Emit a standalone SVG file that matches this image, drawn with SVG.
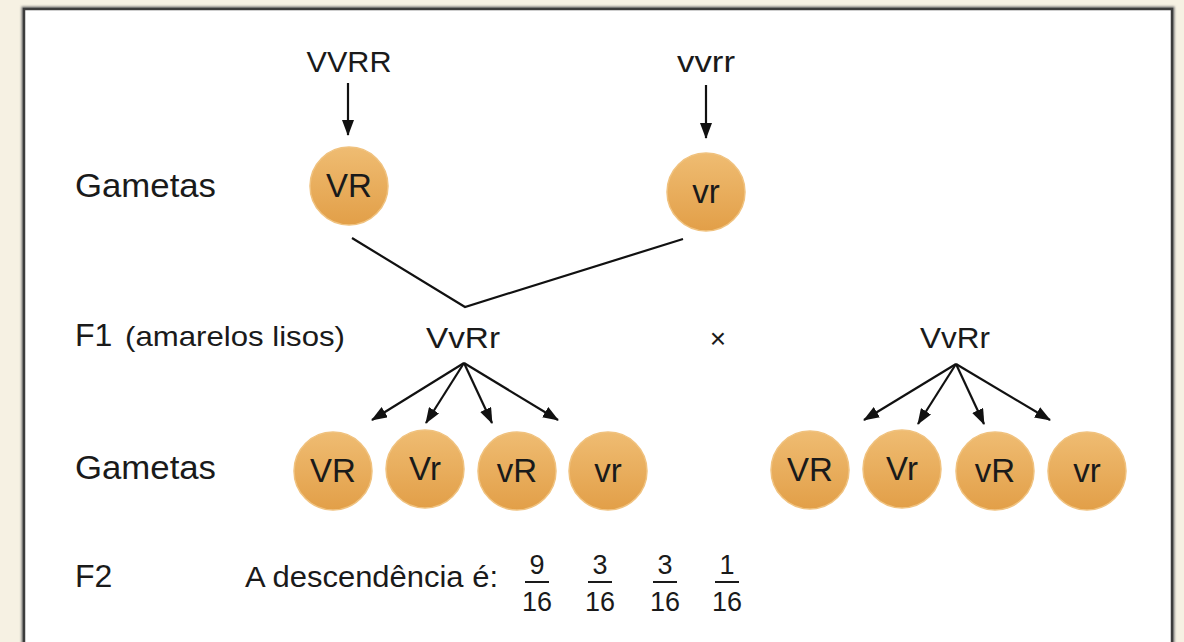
<svg xmlns="http://www.w3.org/2000/svg" width="1184" height="642" viewBox="0 0 1184 642">
<style>
text{font-family:"Liberation Sans",Arial,sans-serif;fill:#1a1a1a}
.lbl{font-size:34px}
.geno{font-size:29px;text-anchor:middle}
.gam{font-size:33px;text-anchor:middle}
.frac{font-size:27px;text-anchor:middle}
.ball{fill:url(#g);stroke:#f0c27f;stroke-width:1.5}
.conn{stroke:#111;stroke-width:2.2;fill:none}
</style>
<defs>
<linearGradient id="g" x1="0" y1="0" x2="0" y2="1">
<stop offset="0" stop-color="#efbc72"/>
<stop offset="1" stop-color="#e29f48"/>
</linearGradient>
<marker id="ah" markerUnits="userSpaceOnUse" markerWidth="16" markerHeight="12" refX="15" refY="6" orient="auto">
<path d="M0,0 L16,6 L0,12 Z" fill="#111"/>
</marker>
<filter id="sh" x="-5%" y="-5%" width="110%" height="110%">
<feGaussianBlur stdDeviation="1.2"/>
</filter>
</defs>
<rect x="0" y="0" width="1184" height="642" fill="#f6f1e3"/>
<rect x="24" y="9" width="1148" height="660" fill="none" stroke="#777" stroke-width="5" filter="url(#sh)"/>
<rect x="24" y="9" width="1148" height="660" fill="#fff" stroke="#3c3c3c" stroke-width="2.5"/>

<g id="labels">
<text class="lbl" x="75" y="197" textLength="141" lengthAdjust="spacingAndGlyphs">Gametas</text>
<text x="75" y="346" style="font-size:32px">F1</text>
<text x="125" y="346" style="font-size:28px" textLength="220" lengthAdjust="spacingAndGlyphs">(amarelos lisos)</text>
<text class="lbl" x="75" y="479" textLength="141" lengthAdjust="spacingAndGlyphs">Gametas</text>
<text x="75" y="587" style="font-size:32px">F2</text>
<text x="245" y="587" style="font-size:29px" textLength="253" lengthAdjust="spacingAndGlyphs">A descendência é:</text>
<text x="718" y="348" style="font-size:28px;text-anchor:middle">×</text>
</g>

<g id="parent-VVRR"><text class="geno" x="349" y="72" textLength="85" lengthAdjust="spacingAndGlyphs">VVRR</text></g>
<g id="parent-vvrr"><text class="geno" x="706" y="72" textLength="58" lengthAdjust="spacingAndGlyphs">vvrr</text></g>
<g id="f1-left"><text class="geno" x="463" y="348" textLength="74" lengthAdjust="spacingAndGlyphs">VvRr</text></g>
<g id="f1-right"><text class="geno" x="955" y="348" textLength="70" lengthAdjust="spacingAndGlyphs">VvRr</text></g>

<g id="gamete-P1"><circle class="ball" cx="349" cy="186" r="39"/><text class="gam" x="349" y="197">VR</text></g>
<g id="gamete-P2"><circle class="ball" cx="706" cy="192" r="39"/><text class="gam" x="706" y="203">vr</text></g>

<g id="gL1"><circle class="ball" cx="333" cy="471" r="39"/><text class="gam" x="333" y="482">VR</text></g>
<g id="gL2"><circle class="ball" cx="425" cy="469" r="39"/><text class="gam" x="425" y="480">Vr</text></g>
<g id="gL3"><circle class="ball" cx="517" cy="471" r="39"/><text class="gam" x="517" y="482">vR</text></g>
<g id="gL4"><circle class="ball" cx="608" cy="471" r="39"/><text class="gam" x="608" y="482">vr</text></g>

<g id="gR1"><circle class="ball" cx="810" cy="470" r="39"/><text class="gam" x="810" y="481">VR</text></g>
<g id="gR2"><circle class="ball" cx="902" cy="469" r="39"/><text class="gam" x="902" y="480">Vr</text></g>
<g id="gR3"><circle class="ball" cx="995" cy="471" r="39"/><text class="gam" x="995" y="482">vR</text></g>
<g id="gR4"><circle class="ball" cx="1087" cy="471" r="39"/><text class="gam" x="1087" y="482">vr</text></g>

<g id="f2-fractions">
<text class="frac" x="537" y="574">9</text>
<text class="frac" x="537" y="611">16</text>
<text class="frac" x="600" y="574">3</text>
<text class="frac" x="600" y="611">16</text>
<text class="frac" x="665" y="574">3</text>
<text class="frac" x="665" y="611">16</text>
<text class="frac" x="727" y="574">1</text>
<text class="frac" x="727" y="611">16</text>
<g stroke="#1a1a1a" stroke-width="2">
<line x1="525" y1="582" x2="549" y2="582"/>
<line x1="588" y1="582" x2="612" y2="582"/>
<line x1="653" y1="582" x2="677" y2="582"/>
<line x1="715" y1="582" x2="739" y2="582"/>
</g>
</g>

<g id="connectors">
<line class="conn" x1="348" y1="83" x2="348" y2="135" marker-end="url(#ah)"/>
<line class="conn" x1="706" y1="85" x2="706" y2="138" marker-end="url(#ah)"/>
<polyline class="conn" points="352,238 465,307 683,239"/>
<line class="conn" x1="464" y1="363" x2="372" y2="420" marker-end="url(#ah)"/>
<line class="conn" x1="464" y1="363" x2="426" y2="423" marker-end="url(#ah)"/>
<line class="conn" x1="464" y1="363" x2="492" y2="423" marker-end="url(#ah)"/>
<line class="conn" x1="464" y1="363" x2="558" y2="420" marker-end="url(#ah)"/>
<line class="conn" x1="956" y1="364" x2="864" y2="420" marker-end="url(#ah)"/>
<line class="conn" x1="956" y1="364" x2="918" y2="424" marker-end="url(#ah)"/>
<line class="conn" x1="956" y1="364" x2="984" y2="424" marker-end="url(#ah)"/>
<line class="conn" x1="956" y1="364" x2="1050" y2="420" marker-end="url(#ah)"/>
</g>
</svg>
